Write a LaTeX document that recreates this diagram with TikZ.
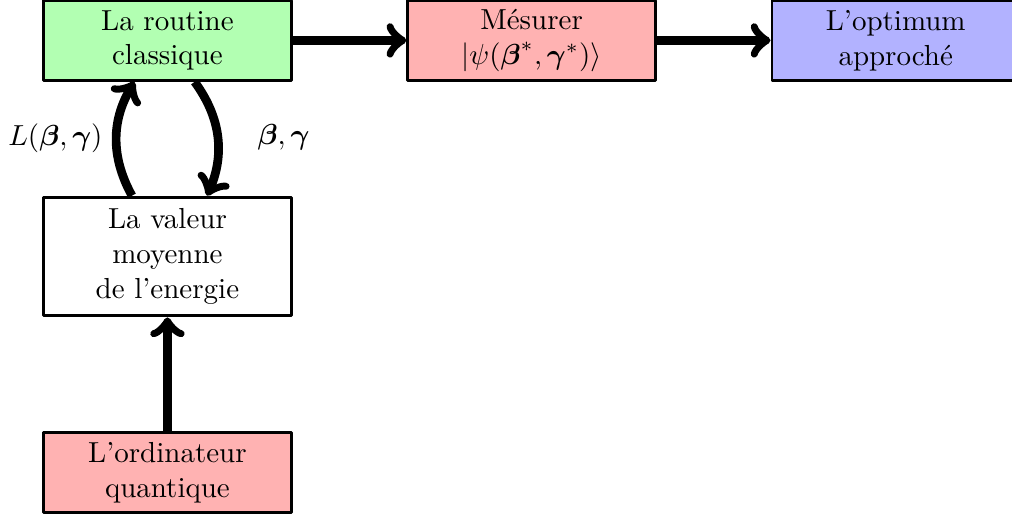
\documentclass[tikz,border=0pt]{standalone}
\usepackage{amsmath,amssymb}
\usepackage{xcolor}
\usepackage{tikz}
\usetikzlibrary{positioning}
\begin{document}
\begin{tikzpicture}[node distance=1.38cm,line join=round,
	box/.style={draw,line width=1pt,minimum width=3cm,minimum height=0.97cm,align=center,inner sep=1pt},
	link/.style={-{>[scale=1.5]},line width=3pt}]
\useasboundingbox (-2.03,0.49) rectangle (10.24,-5.78);
\node[box,fill=green!30] (classique) {La routine\\classique};
\node[box,fill=red!30,right=of classique] (mesure) {Mésurer\\$|\psi(\boldsymbol{\beta}^*,\boldsymbol{\gamma}^*)\rangle$};
\node[box,fill=blue!30,right=of mesure] (optimum) {L'optimum\\approché};
\node[box,minimum height=1.44cm,below=of classique] (valeur) {La valeur\\moyenne\\de l'energie};
\node[box,fill=red!30,below=of valeur] (ordinateur) {L'ordinateur\\quantique};
\draw[link] (classique) -- (mesure);
\draw[link] (mesure) -- (optimum);
\draw[link] (ordinateur) -- (valeur);
\draw[link] ([xshift=-0.43cm]valeur.north) to[bend left] node[left] {$L(\boldsymbol{\beta},\boldsymbol{\gamma})$} ([xshift=-0.4cm]classique.south);
\draw[link] ([xshift=0.33cm]classique.south) to[bend left] node[right=9pt] {$\boldsymbol{\beta},\boldsymbol{\gamma}$} ([xshift=0.48cm]valeur.north);
\end{tikzpicture}
\end{document}
